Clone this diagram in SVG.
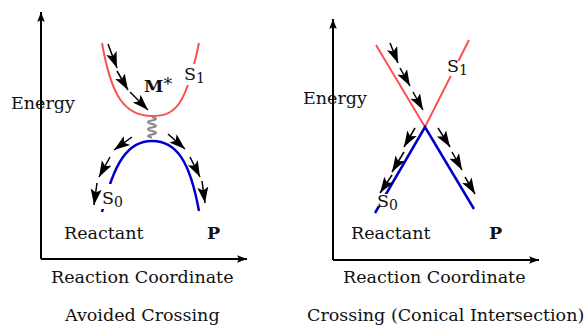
<svg xmlns="http://www.w3.org/2000/svg" width="585" height="325" viewBox="0 0 585 325">
<defs>
<marker id="ah" markerUnits="userSpaceOnUse" markerWidth="20" markerHeight="14" refX="16" refY="0" viewBox="0 -7 20 14" orient="auto">
<path d="M0,-5.5 L16,0 L0,5.5 L3.5,0 z" fill="#000"/>
</marker>
<marker id="ax" markerUnits="userSpaceOnUse" markerWidth="12" markerHeight="10" refX="10" refY="0" viewBox="0 -5 12 10" orient="auto">
<path d="M0,-3.8 L10,0 L0,3.8 L2,0 z" fill="#000"/>
</marker>
<style>
text{font-family:"DejaVu Serif","Liberation Serif",serif;font-size:17.5px;fill:#111}
.b{font-weight:bold}
.sub{font-size:14px}
.axis{stroke:#000;stroke-width:2;fill:none;marker-end:url(#ax)}
.s1{stroke:#ff5050;stroke-width:2;fill:none}
.s0{stroke:#0000cc;stroke-width:2.5;fill:none}
.arr{stroke:#000;stroke-width:1.5;fill:none;marker-end:url(#ah)}
.mask{fill:#fff}
</style>
</defs>
<rect width="585" height="325" fill="#fff"/>
<g id="left-panel">
<g id="left-axes">
<path class="axis" d="M41,259 V12"/>
<path class="axis" d="M41,259 H247"/>
</g>
<g id="left-S1-curve"><path class="s1" d="M102,43 C111,95 124,116 152,116 C176,116 186,105 199,43"/></g>
<g id="left-S0-curve"><path class="s0" d="M102,212 C114,162 128,141 152,141 C177,141 190,162 199,211"/></g>
<g id="left-coil"><path d="M152,117 q8,2 0,3.5 q-8,1.5 0,3.5 q8,2 0,3.5 q-8,1.5 0,3.5 q8,2 0,3.5 q-8,1.5 0,3" fill="none" stroke="#888" stroke-width="2"/></g>
<rect class="mask" x="183" y="64" width="20" height="21"/>
<rect class="mask" x="100" y="184" width="22" height="25"/>
<g id="left-labels">
<text x="11" y="109">Energy</text>
<text x="144" y="92"><tspan class="b">M</tspan><tspan dy="-2">*</tspan></text>
<text x="184" y="80">S<tspan class="sub" dy="3">1</tspan></text>
<text x="102" y="204">S<tspan class="sub" dy="3">0</tspan></text>
<text x="64" y="239">Reactant</text>
<text x="207" y="239" class="b">P</text>
<text x="51" y="283">Reaction Coordinate</text>
<text x="65" y="321">Avoided Crossing</text>
</g>
</g>
<g id="right-panel">
<g id="right-axes">
<path class="axis" d="M333,260 V19"/>
<path class="axis" d="M333,260 H539"/>
</g>
<g id="right-S1-lines"><path class="s1" d="M376,45 L425,127 L469,40"/></g>
<g id="right-S0-lines"><path class="s0" d="M375,213 L425,127 L474,209"/></g>
<rect class="mask" x="445" y="61" width="24" height="15"/>
<rect class="mask" x="378" y="194" width="22" height="12"/>
<g id="right-labels">
<text x="303" y="104">Energy</text>
<text x="447" y="72">S<tspan class="sub" dy="3">1</tspan></text>
<text x="377" y="207">S<tspan class="sub" dy="3">0</tspan></text>
<text x="351" y="239">Reactant</text>
<text x="489" y="239" class="b">P</text>
<text x="343" y="283">Reaction Coordinate</text>
<text x="307" y="321">Crossing (Conical Intersection)</text>
</g>
</g>
<g id="connectors">
<path class="arr" d="M108,44 L117,68"/>
<path class="arr" d="M117,71 L128,90"/>
<path class="arr" d="M130,92 L148,110"/>
<path class="arr" d="M132,137 L114,150"/>
<path class="arr" d="M110,157 L99,177"/>
<path class="arr" d="M97,183 L94,205"/>
<path class="arr" d="M168,134 L185,149"/>
<path class="arr" d="M190,157 L200,177"/>
<path class="arr" d="M202,181 L205,203"/>
<path class="arr" d="M390,43 L398,63"/>
<path class="arr" d="M400,68 L410,86"/>
<path class="arr" d="M413,92 L423,110"/>
<path class="arr" d="M415,128 L404,147"/>
<path class="arr" d="M404,152 L392,172"/>
<path class="arr" d="M392,175 L380,193"/>
<path class="arr" d="M438,128 L450,147"/>
<path class="arr" d="M452,152 L462,170"/>
<path class="arr" d="M465,177 L475,194"/>
</g>
</svg>
